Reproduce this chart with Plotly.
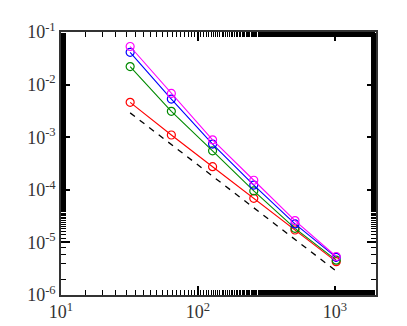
import plotly.graph_objects as go

# Grid sizes
n_points = [32, 64, 128, 256, 512, 1024]

# Error values
err_magenta = [5.3e-2, 6.8e-3, 8.9e-4, 1.52e-4, 2.6e-5, 5.4e-6]
err_blue = [4.1e-2, 5.3e-3, 7.4e-4, 1.23e-4, 2.25e-5, 5.2e-6]
err_green = [2.2e-2, 3.1e-3, 5.5e-4, 9.5e-5, 1.85e-5, 4.6e-6]
err_red = [4.6e-3, 1.1e-3, 2.75e-4, 6.9e-5, 1.72e-5, 4.3e-6]

# Second-order reference line (end points)
ref_n = [32, 1024]
ref_err = [2.9e-3, 2.85e-6]

xtick_vals = [10, 100, 1000]
xtick_text = ["10<sup>1</sup>", "10<sup>2</sup>", "10<sup>3</sup>"]
ytick_vals = [1e-6, 1e-5, 1e-4, 1e-3, 1e-2, 1e-1]
ytick_text = ["10<sup>-6</sup>", "10<sup>-5</sup>", "10<sup>-4</sup>",
              "10<sup>-3</sup>", "10<sup>-2</sup>", "10<sup>-1</sup>"]

fig = go.Figure()

fig.add_trace(go.Scatter(
    x=ref_n, y=ref_err, mode="lines",
    line=dict(color="black", width=1.3, dash="6px,6px"),
))

series = [
    (err_red, "#ff0000"),
    (err_green, "#008a00"),
    (err_blue, "#0000ff"),
    (err_magenta, "#ff00ff"),
]
for vals, col in series:
    fig.add_trace(go.Scatter(
        x=n_points, y=vals, mode="lines+markers",
        line=dict(color=col, width=1.1),
        marker=dict(symbol="circle-open", size=8, color=col, line=dict(width=1.2, color=col)),
    ))

axis_common = dict(
    type="log",
    showgrid=False,
    zeroline=False,
    showline=True,
    linecolor="#333333",
    linewidth=1.5,
    mirror="allticks",
    ticks="inside",
    ticklen=9,
    tickwidth=1.5,
    tickcolor="black",
    tickfont=dict(family="Liberation Serif", size=18, color="#333333"),
    minor=dict(ticks="inside", ticklen=5, tickwidth=1.2, tickcolor="black",
               showgrid=False),
)

fig.update_xaxes(range=[1, 3.301], tickmode="array",
                 tickvals=xtick_vals, ticktext=xtick_text, **axis_common)
fig.update_yaxes(range=[-6, -1], tickmode="array",
                 tickvals=ytick_vals, ticktext=ytick_text, **axis_common)

fig.update_layout(
    width=407,
    height=326,
    showlegend=False,
    paper_bgcolor="white",
    plot_bgcolor="white",
    margin=dict(l=53, r=39, t=24, b=37),
)

fig.write_html("out.html")
